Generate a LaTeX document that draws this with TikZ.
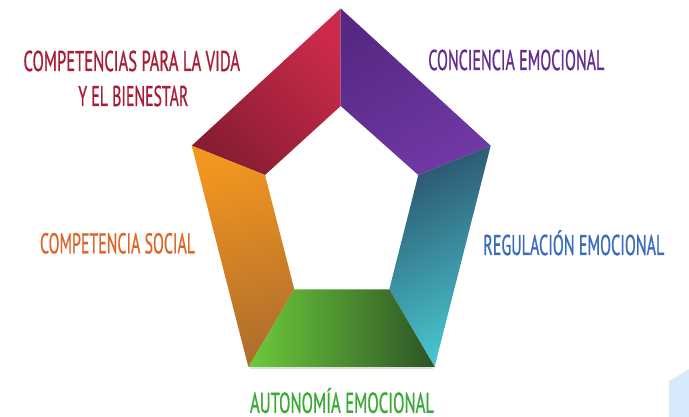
\documentclass[tikz,border=0pt]{standalone}
\usepackage{fontspec}
\setmainfont{PT Sans}
\newfontfamily\lblfont[FakeBold=1.2]{PT Sans}
\usepackage{graphicx}
\definecolor{tRed}{RGB}{168,30,56}
\definecolor{tPurple}{RGB}{102,45,145}
\definecolor{tBlue}{RGB}{59,108,189}
\definecolor{tOrange}{RGB}{219,104,42}
\definecolor{tGreen}{RGB}{58,170,53}
\definecolor{redA}{RGB}{203,42,74}
\definecolor{redB}{RGB}{136,29,50}
\definecolor{purA}{RGB}{86,40,132}
\definecolor{purB}{RGB}{112,56,164}
\definecolor{tealA}{RGB}{44,84,112}
\definecolor{tealB}{RGB}{72,198,206}
\definecolor{grnA}{RGB}{108,203,58}
\definecolor{grnB}{RGB}{45,83,37}
\definecolor{orA}{RGB}{243,150,31}
\definecolor{orB}{RGB}{175,110,45}
\definecolor{corner}{RGB}{214,234,251}
\newcommand{\capfit}[2]{\resizebox{#1}{20pt}{\lblfont\raisebox{0pt}[\fontcharht\font`\X][0pt]{#2}}}
\begin{document}
\begin{tikzpicture}[x=1pt,y=-1pt,
  lbl/.style={inner sep=0pt,outer sep=0pt,anchor=base west}]
\useasboundingbox (0,0) rectangle (689,417);
% outer vertices
\coordinate (T) at (340.7,8.5);
\coordinate (L) at (191.7,145.7);
\coordinate (R) at (490.7,145.7);
\coordinate (BL) at (248.3,366.8);
\coordinate (BR) at (434.6,366.8);
% inner vertices
\coordinate (t) at (340.7,106);
\coordinate (l) at (265,175);
\coordinate (r) at (418.3,175);
\coordinate (bl) at (294.3,289.3);
\coordinate (br) at (389.3,289.3);
% faint shadow
\fill[black!12] (249.5,366.8) -- (433.4,366.8) -- (433,369) -- (250,369) -- cycle;
% segments
\shade[top color=redA,bottom color=redB,shading angle=-45] (T) -- (t) -- (l) -- (L) -- cycle;
\shade[top color=purA,bottom color=purB,shading angle=30] (T) -- (R) -- (r) -- (t) -- cycle;
\shade[top color=tealA,bottom color=tealB,shading angle=25] (R) -- (BR) -- (br) -- (r) -- cycle;
\shade[left color=grnA,right color=grnB] (bl) -- (br) -- (BR) -- (BL) -- cycle;
\shade[top color=orA,bottom color=orB,shading angle=15] (L) -- (l) -- (bl) -- (BL) -- cycle;
% corner decoration
\fill[corner] (669,381) -- (689,369.3) -- (689,417) -- (669,417) -- cycle;
% labels
\node[lbl,text=tRed] (vida1) at (23.5,71) {\capfit{216.5pt}{COMPETENCIAS PARA LA VIDA}};
\node[lbl,text=tRed] (vida2) at (78.3,106) {\capfit{110pt}{Y EL BIENESTAR}};
\node[lbl,text=tPurple] (conc) at (428.3,70) {\capfit{176pt}{CONCIENCIA EMOCIONAL}};
\node[lbl,text=tBlue] (regu) at (483.3,255) {\capfit{181pt}{REGULACIÓN EMOCIONAL}};
\node[lbl,text=tOrange] (soc) at (40,253.3) {\capfit{155pt}{COMPETENCIA SOCIAL}};
\node[lbl,text=tGreen] (auto) at (250,412.8) {\capfit{184pt}{AUTONOMÍA EMOCIONAL}};
\end{tikzpicture}
\end{document}
